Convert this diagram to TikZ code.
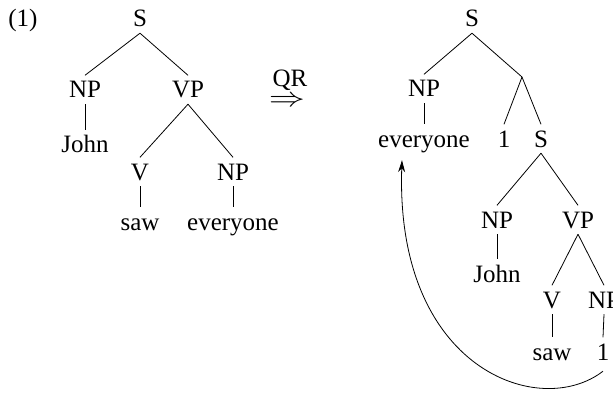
\documentclass[tikz,border=0pt]{standalone}
\usepackage{fontspec}
\usepackage{graphicx}
\setmainfont{Liberation Serif}
\usetikzlibrary{arrows.meta}
\begin{document}
\begin{tikzpicture}[x=1pt,y=-1pt,
  lab/.style={anchor=base, inner xsep=1pt, inner ysep=6pt, text height=16.5pt, text depth=0pt, font=\fontsize{25}{29}\selectfont},
  edge/.style={line width=0.8pt},
  move/.style={line width=0.8pt, -{Stealth[length=12pt,width=7pt]}}
  ]
\useasboundingbox (0,0) rectangle (613,393);
\clip (0,0) rectangle (613,393);

% example number
\node[lab] (ex) at (23,27) {(1)};

% left tree
\node[lab] (S1) at (140,27) {S};
\node[lab] (NP1) at (85,98) {NP};
\node[lab] (VP1) at (188,98) {VP};
\node[lab] (J1) at (85,153) {John};
\node[lab] (V1) at (140,180) {V};
\node[lab] (NP2) at (233,180) {NP};
\node[lab] (saw1) at (140,230) {saw};
\node[lab] (ev1) at (233,230) {everyone};

\draw[edge] (S1.south) -- (NP1.north);
\draw[edge] (S1.south) -- (VP1.north);
\draw[edge] (NP1.south) -- (J1.north);
\draw[edge] (VP1.south) -- (V1.north);
\draw[edge] (VP1.south) -- (NP2.north);
\draw[edge] (V1.south) -- (saw1.north);
\draw[edge] (NP2.south) -- (ev1.north);

% QR arrow
\node[lab, inner ysep=0.5pt] (qr) at (290,87) {QR};
\node[anchor=center, inner sep=0pt, font=\fontsize{25}{29}\selectfont] (impl) at (287,101) {\scalebox{1.45}[1.1]{$\Rightarrow$}};

% right tree
\node[lab] (S2) at (472,27) {S};
\node[lab] (NP3) at (424,97) {NP};
\node[lab] (ev2) at (424,147) {everyone};
\coordinate (br) at (522,77);
\node[lab] (one1) at (504,147) {1};
\node[lab] (S3) at (541,147) {S};
\node[lab] (NP4) at (497,228) {NP};
\node[lab] (VP2) at (578,228) {VP};
\node[lab] (J2) at (497,282) {John};
\node[lab] (V2) at (552,308) {V};
\node[lab] (NP5) at (604,308) {NP};
\node[lab] (saw2) at (552,360) {saw};
\node[lab] (one2) at (603,360) {1};

\draw[edge] (S2.south) -- (NP3.north);
\draw[edge] (S2.south) -- (br);
\draw[edge] (NP3.south) -- (ev2.north);
\draw[edge] (br) -- (one1.north);
\draw[edge] (br) -- (S3.north);
\draw[edge] (S3.south) -- (NP4.north);
\draw[edge] (S3.south) -- (VP2.north);
\draw[edge] (NP4.south) -- (J2.north);
\draw[edge] (VP2.south) -- (V2.north);
\draw[edge] (VP2.south) -- (NP5.north);
\draw[edge] (V2.south) -- (saw2.north);
\draw[edge] (NP5.south) -- (one2.north);

% movement arrow
\draw[move] ([yshift=-5pt]one2.south) .. controls (540,420) and (395,370) .. ([xshift=-22pt,yshift=-7pt]ev2.south);
\end{tikzpicture}
\end{document}
